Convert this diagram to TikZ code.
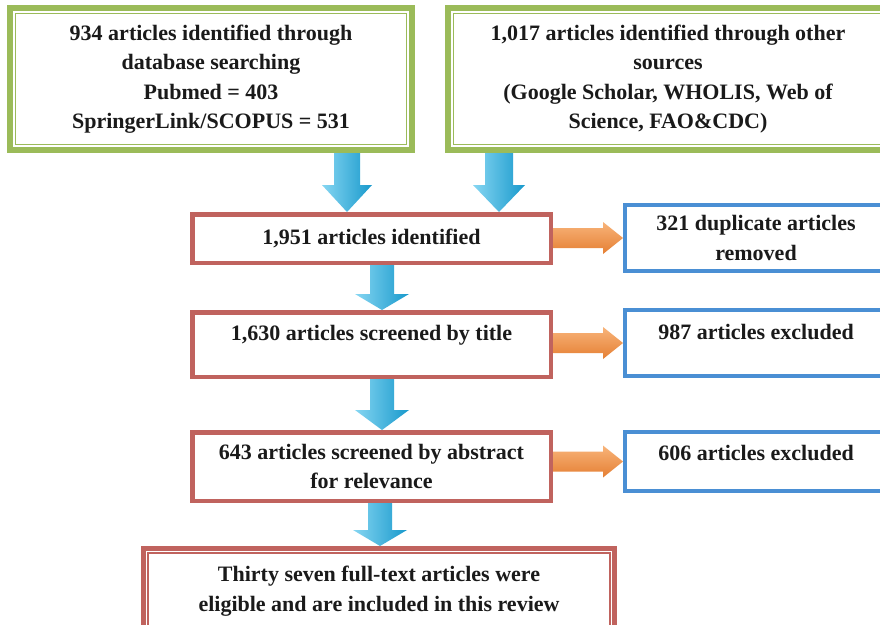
\documentclass[tikz,border=0pt]{standalone}
\usepackage{fontspec}
\setmainfont{Liberation Serif}
\usetikzlibrary{calc,backgrounds}
\definecolor{gbox}{HTML}{9BBB59}
\definecolor{rbox}{HTML}{C0635E}
\definecolor{bbox}{HTML}{4A8FD4}
\definecolor{alight}{HTML}{86D6F2}
\definecolor{adark}{HTML}{1899CC}
\definecolor{olight}{HTML}{F8B47A}
\definecolor{odark}{HTML}{E57F33}
\definecolor{ink}{HTML}{1A1A1A}
% #1 start, #2 end, #3 head length, #4 shaft half width, #5 head half width
\newcommand\blockdown[5]{%
  \shade[left color=alight, right color=adark] let \p1=#1, \p2=#2 in
    (\x1-#4pt,\y1) -- (\x1+#4pt,\y1) -- (\x1+#4pt,\y2+#3pt) -- (\x1+#5pt,\y2+#3pt)
    -- (\x1,\y2) -- (\x1-#5pt,\y2+#3pt) -- (\x1-#4pt,\y2+#3pt) -- cycle;}
\newcommand\blockright[2]{%
  \shade[top color=olight, bottom color=odark] let \p1=#1, \p2=#2 in
    (\x1,\y2+10pt) -- (\x2-20pt,\y2+10pt) -- (\x2-20pt,\y2+16pt) -- (\x2,\y2)
    -- (\x2-20pt,\y2-16pt) -- (\x2-20pt,\y2-10pt) -- (\x1,\y2-10pt) -- cycle;}
\begin{document}
\begin{tikzpicture}[x=1pt,y=-1pt,
  txt/.style={font=\fontsize{22}{29.5}\selectfont\bfseries, align=center, text=ink, inner sep=0pt},
  greenbox/.style={draw=gbox, line width=9pt, fill=white, inner sep=0pt},
  redbox/.style={draw=rbox, line width=4.5pt, fill=white, inner sep=0pt},
  finalbox/.style={draw=rbox, line width=8pt, fill=white, inner sep=0pt},
  bluebox/.style={draw=bbox, line width=4pt, fill=white, inner sep=0pt},
]
\useasboundingbox (0,0) rectangle (880,624);
\clip (0,0) rectangle (880,624);

% top sources
\node[greenbox, txt, minimum width=399pt, minimum height=139pt] (A) at (211,79)
  {934 articles identified through\\database searching\\Pubmed = 403\\SpringerLink/SCOPUS = 531};
\draw[white, line width=1.2pt] ($(A.north west)+(7,7)$) rectangle ($(A.south east)+(-7,-7)$);
\node[greenbox, txt, minimum width=437pt, minimum height=139pt] (B) at (668,79)
  {1,017 articles identified through other\\sources\\(Google Scholar, WHOLIS, Web of\\Science, FAO\&CDC)};
\draw[white, line width=1.2pt] ($(B.north west)+(7,7)$) rectangle ($(B.south east)+(-7,-7)$);

% main column
\node[redbox, txt, minimum width=358.5pt, minimum height=48.5pt] (C) at (371.5,238.5)
  {1,951 articles identified};
\node[redbox, minimum width=358.5pt, minimum height=64.5pt] (E) at (371.5,344.5) {};
\node[txt] (Et) at (371.5,335) {1,630 articles screened by title};
\node[redbox, txt, minimum width=358.5pt, minimum height=68.5pt] (G) at (371.5,466.5)
  {643 articles screened by abstract\\for relevance};
\node[finalbox, txt, minimum width=468pt, minimum height=82pt] (I) at (379,591)
  {Thirty seven full-text articles were\\eligible and are included in this review};
\draw[white, line width=1.3pt] ($(I.north west)+(5.65,5.65)$) rectangle ($(I.south east)+(-5.65,-5.65)$);

% exclusion column
\node[bluebox, txt, minimum width=262pt, minimum height=66pt] (D) at (756,238)
  {321 duplicate articles\\removed};
\node[bluebox, minimum width=262pt, minimum height=66pt] (F) at (756,343) {};
\node[txt] (Ft) at (756,332) {987 articles excluded};
\node[bluebox, minimum width=262pt, minimum height=59pt] (H) at (756,461.5) {};
\node[txt] (Ht) at (756,453) {606 articles excluded};

\begin{pgfonlayer}{background}
  \fill[white] (0,0) rectangle (880,624);
  \blockdown{(A.south -| 347,0)}{(C.north -| 347,0)}{27}{13}{25}
  \blockdown{(B.south -| 499,0)}{(C.north -| 499,0)}{27}{14}{26}
  \blockdown{(C.south -| 382,0)}{(E.north -| 382,0)}{16}{12}{27}
  \blockdown{(E.south -| 382,0)}{(G.north -| 382,0)}{20}{12}{27}
  \blockdown{(G.south -| 380,0)}{(I.north -| 380,0)}{16}{12}{27}
  \blockright{(C.east)}{(D.west)}
  \blockright{(E.east)}{(F.west)}
  \blockright{(G.east)}{(H.west)}
\end{pgfonlayer}
\end{tikzpicture}
\end{document}
